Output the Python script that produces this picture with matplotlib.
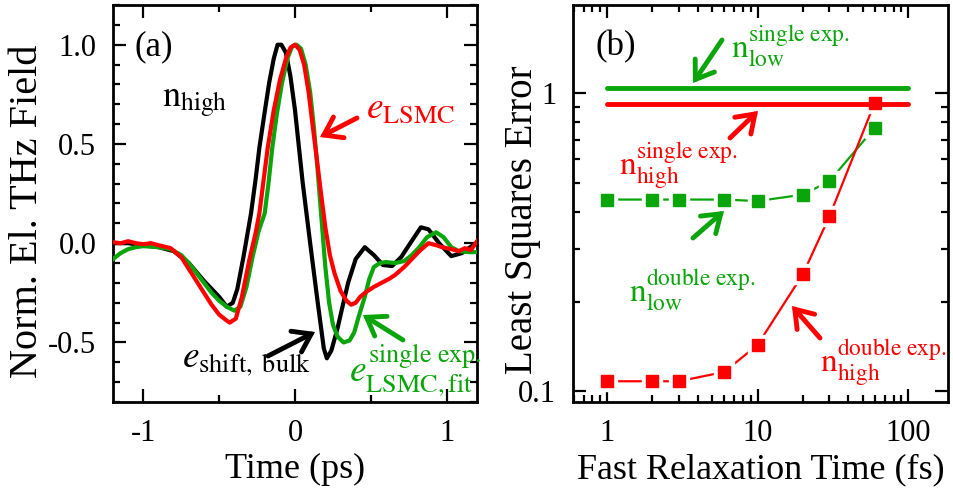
import matplotlib
matplotlib.use("Agg")
import matplotlib.pyplot as plt
from matplotlib.ticker import MultipleLocator, LogLocator, NullFormatter

plt.rcParams["font.family"] = ["Liberation Serif", "DejaVu Serif"]
plt.rcParams["mathtext.fontset"] = "stix"
plt.rcParams["axes.unicode_minus"] = False

GREEN = "#0aa50a"
RED = "#ff0000"

# ---- panel (a): THz waveforms ----
t_black = [-1.2, -1.1, -1.0, -0.9, -0.8, -0.7, -0.6, -0.5, -0.45, -0.41, -0.38, -0.34,
           -0.29, -0.26, -0.235, -0.2, -0.17, -0.14, -0.115, -0.09, -0.06, -0.03, 0.0,
           0.05, 0.1, 0.15, 0.19, 0.21, 0.24, 0.28, 0.31, 0.35, 0.4, 0.46, 0.52, 0.58,
           0.64, 0.7, 0.76, 0.83, 0.88, 0.95, 1.03, 1.1, 1.165, 1.2]
v_black = [0.0, 0.0, -0.01, -0.02, -0.04, -0.1, -0.19, -0.27, -0.32, -0.30, -0.23, -0.07,
           0.15, 0.32, 0.48, 0.66, 0.81, 0.93, 1.0, 1.0, 0.96, 0.84, 0.67,
           0.31, 0.0, -0.3, -0.53, -0.58, -0.54, -0.43, -0.33, -0.2, -0.08, -0.02, -0.06, -0.11,
           -0.115, -0.07, 0.0, 0.08, 0.07, 0.0, -0.065, -0.05, -0.015, 0.0]

t_red = [-1.2, -1.15, -1.1, -1.05, -1.0, -0.95, -0.9, -0.82, -0.75, -0.7, -0.65, -0.6,
         -0.55, -0.5, -0.45, -0.43, -0.39, -0.35, -0.3, -0.26, -0.235, -0.21, -0.18, -0.14,
         -0.1, -0.06, -0.03, 0.0, 0.03, 0.06, 0.09, 0.115, 0.14, 0.17, 0.2, 0.23, 0.26,
         0.3, 0.34, 0.37, 0.4, 0.43, 0.47, 0.52, 0.57, 0.62, 0.66, 0.72, 0.77, 0.82, 0.88,
         0.93, 0.97, 1.03, 1.08, 1.12, 1.16, 1.2]
v_red = [0.005, 0.0, 0.01, 0.0, -0.005, 0.0, -0.01, -0.025, -0.07, -0.13, -0.19, -0.25,
         -0.31, -0.36, -0.39, -0.40, -0.38, -0.27, -0.08, 0.05, 0.15, 0.3, 0.48, 0.67,
         0.82, 0.93, 0.985, 1.0, 0.975, 0.9, 0.76, 0.6, 0.45, 0.26, 0.08, -0.06, -0.15,
         -0.24, -0.29, -0.31, -0.30, -0.27, -0.245, -0.22, -0.2, -0.18, -0.16, -0.12, -0.08, -0.04, 0.0,
         -0.01, -0.02, -0.03, -0.04, -0.025, -0.035, 0.01]

t_green = [-1.2, -1.15, -1.1, -1.05, -1.0, -0.9, -0.82, -0.75, -0.7, -0.65, -0.6, -0.55,
           -0.5, -0.45, -0.4, -0.36, -0.32, -0.28, -0.24, -0.2, -0.175, -0.15, -0.12,
           -0.085, -0.05, -0.02, 0.01, 0.04, 0.07, 0.1, 0.125, 0.15, 0.175, 0.2, 0.225,
           0.25, 0.28, 0.32, 0.36, 0.39, 0.42, 0.46, 0.49, 0.52, 0.56, 0.6, 0.66, 0.72,
           0.77, 0.82, 0.87, 0.93, 0.98, 1.03, 1.08, 1.15, 1.2]
v_green = [-0.08, -0.05, -0.03, -0.02, -0.015, -0.02, -0.03, -0.06, -0.1, -0.15, -0.2, -0.25,
           -0.29, -0.32, -0.34, -0.32, -0.22, -0.07, 0.06, 0.15, 0.3, 0.48, 0.65,
           0.81, 0.93, 0.99, 1.0, 0.98, 0.9, 0.76, 0.58, 0.36, 0.12, -0.12, -0.3,
           -0.41, -0.47, -0.50, -0.49, -0.45, -0.37, -0.27, -0.18, -0.12, -0.1, -0.095, -0.1, -0.09,
           -0.06, -0.02, 0.03, 0.055, 0.03, -0.02, -0.04, -0.045, -0.045]

# ---- panel (b): least squares error ----
tau = [1, 2, 3, 6, 10, 20, 30, 60]
err_low_double = [0.44, 0.44, 0.44, 0.44, 0.435, 0.457, 0.507, 0.766]
err_high_double = [0.108, 0.108, 0.108, 0.116, 0.143, 0.247, 0.386, 0.93]
tau_single = [1, 100]
err_low_single = [1.04, 1.04]
err_high_single = [0.92, 0.92]

W, H = 954, 499
fig = plt.figure(figsize=(W / 100, H / 100), dpi=100)
axa = fig.add_axes([113 / W, 1 - 402 / H, 364 / W, 397 / H])
axb = fig.add_axes([573 / W, 1 - 402 / H, 375 / W, 397 / H])


def fpos(px, py):
    return (px / W, 1 - py / H)


def label(txt, px, py, color, size=24):
    fig.text(*fpos(px, py), txt, color=color, fontsize=size, ha="left", va="baseline")


def arrow(tail, head, color):
    fig.add_artist(matplotlib.patches.FancyArrowPatch(
        fpos(*tail), fpos(*head), transform=fig.transFigure,
        arrowstyle="->,head_length=0.55,head_width=0.38", mutation_scale=22,
        lw=3.5, color=color, shrinkA=0, shrinkB=0, capstyle="round", joinstyle="miter"))


for ax in (axa, axb):
    for s in ax.spines.values():
        s.set_linewidth(2)
    ax.tick_params(which="both", direction="in", top=True, right=True, width=1.6,
                   labelsize=22, pad=12)
    ax.tick_params(which="major", length=9.5)
    ax.tick_params(which="minor", length=5)

axa.plot(t_black, v_black, color="black", lw=3, zorder=3)
axa.plot(t_green, v_green, color=GREEN, lw=3, zorder=4)
axa.plot(t_red, v_red, color=RED, lw=3, zorder=5)
axa.set_xlim(-1.2, 1.2)
axa.set_ylim(-0.8, 1.2)
axa.set_xticks([-1, 0, 1])
axa.set_xticklabels(["-1", "0", "1"])
axa.xaxis.set_minor_locator(MultipleLocator(0.5))
axa.set_yticks([-0.5, 0.0, 0.5, 1.0])
axa.set_yticklabels(["-0.5", "0.0", "0.5", "1.0"])
axa.yaxis.set_minor_locator(MultipleLocator(0.1))
axa.set_xlabel("Time (ps)", fontsize=26, labelpad=4)
axa.set_ylabel("Norm. El. THz Field", fontsize=29, va="center")
axa.yaxis.set_label_coords(-0.235, 0.48)

# connecting lines with gaps at the symbols
axb.plot(tau, err_low_double, color=GREEN, lw=1.6, zorder=2)
axb.plot(tau, err_low_double, "s", color="white", ms=14, zorder=2.1)
axb.plot(tau, err_high_double, color=RED, lw=1.6, zorder=2.2)
axb.plot(tau, err_high_double, "s", color="white", ms=14, zorder=2.3)
axb.plot(tau_single, err_low_single, color=GREEN, lw=3.5, zorder=3, solid_capstyle="round")
axb.plot(tau_single, err_high_single, color=RED, lw=3.5, zorder=3, solid_capstyle="round")
axb.plot(tau, err_low_double, "s", color=GREEN, ms=8.5, zorder=4)
axb.plot(tau, err_high_double, "s", color=RED, ms=8.5, zorder=4)
axb.set_xscale("log")
axb.set_yscale("log")
axb.set_xlim(0.595, 184)
axb.set_ylim(0.092, 1.98)
axb.set_xticks([1, 10, 100])
axb.set_xticklabels(["1", "10", "100"])
axb.xaxis.set_minor_locator(LogLocator(base=10, subs=range(2, 10)))
axb.xaxis.set_minor_formatter(NullFormatter())
axb.set_yticks([0.1, 1])
axb.set_yticklabels(["0.1", "1"])
axb.yaxis.set_minor_locator(LogLocator(base=10, subs=range(2, 10)))
axb.yaxis.set_minor_formatter(NullFormatter())
axb.set_xlabel("Fast Relaxation Time (fs)", fontsize=26, labelpad=4)
axb.set_ylabel("Least Squares Error", fontsize=28, va="center")
axb.yaxis.set_label_coords(-0.135, 0.46)

# panel tags and annotations
label("(a)", 135, 55, "black", 25)
label("(b)", 596, 55, "black", 25)
label(r"$\mathrm{n}_{\mathrm{high}}$", 162, 107, "black", 26)
label(r"$e_{\mathrm{LSMC}}$", 366, 118, RED, 27)
label(r"$e_{\mathrm{shift,\ bulk}}$", 182, 367, "black", 27)
label(r"$e^{\mathrm{single\ exp.}}_{\mathrm{LSMC,fit}}$", 349, 382, GREEN, 27)
label(r"$\mathrm{n}^{\mathrm{single\ exp.}}_{\mathrm{low}}$", 731, 58, GREEN)
label(r"$\mathrm{n}^{\mathrm{single\ exp.}}_{\mathrm{high}}$", 619, 175, RED)
label(r"$\mathrm{n}^{\mathrm{double\ exp.}}_{\mathrm{low}}$", 629, 302, GREEN)
label(r"$\mathrm{n}^{\mathrm{double\ exp.}}_{\mathrm{high}}$", 820, 372, RED)

arrow((357, 118), (320, 137), RED)
arrow((268, 356), (315, 332), "black")
arrow((403, 340), (363, 315), GREEN)
arrow((722, 40), (693, 83), GREEN)
arrow((730, 138), (758, 111), RED)
arrow((693, 238), (724, 211), GREEN)
arrow((820, 338), (792, 306), RED)

fig.savefig("out.png", dpi=100)
